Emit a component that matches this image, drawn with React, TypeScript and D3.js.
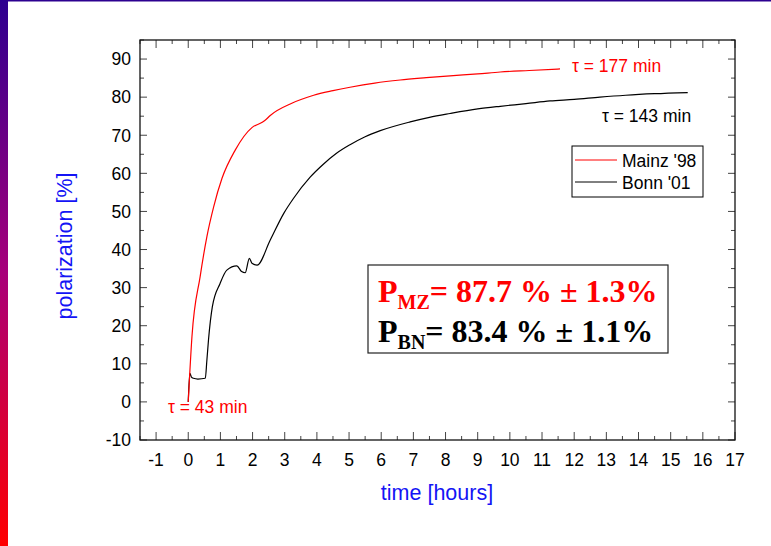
import React, { useEffect, useRef } from "react";
import * as d3 from "d3";

// values
const mainzTime = [0, 0.115, 0.37, 0.58, 0.79, 1.05, 1.46, 1.98, 2.3, 2.4, 2.55, 3.22, 3.9, 4.5, 5.03, 5.8, 6.59, 7.4, 8.14, 9.0, 9.7, 10.6, 11.56];
const mainzPol = [0, 17.1, 32.9, 43.4, 51.2, 58.7, 66.1, 72.0, 73.4, 74.0, 75.2, 78.4, 80.5, 81.7, 82.6, 83.7, 84.5, 85.1, 85.6, 86.1, 86.6, 87.0, 87.4];
const bonnTime = [0, 0.05, 0.1, 0.16, 0.3, 0.53, 0.58, 0.63, 0.75, 0.99, 1.2, 1.51, 1.66, 1.77, 1.9, 1.98, 2.14, 2.55, 2.97, 3.27, 3.79, 4.2, 4.6, 5.03, 5.5, 5.97, 6.9, 7.5, 8.14, 9.0, 9.7, 10.5, 11.25, 12.0, 12.8, 13.6, 14.5, 15.53];
const bonnPol = [0, 7.5, 6.5, 6.2, 6.0, 6.2, 11, 16.3, 25, 31.1, 34.6, 35.7, 34.2, 33.9, 37.7, 36.4, 35.9, 42.5, 49.5, 53.4, 59, 62.4, 65.2, 67.5, 69.6, 71.2, 73.5, 74.7, 75.7, 76.9, 77.6, 78.3, 79, 79.4, 80, 80.5, 80.9, 81.2];
const xTicks = d3.range(-1, 18);
const yTicks = d3.range(-10, 91, 10);

const App = () => {
  const svgRef = useRef<SVGSVGElement>(null);

  useEffect(() => {
    const svg = d3.select(svgRef.current);
    svg.selectAll("*").remove();

    const left = 140, right = 735, top = 40, bottom = 440;
    const x = d3.scaleLinear().domain([-1.5, 17]).range([left, right]);
    const y = d3.scaleLinear().domain([-10, 95]).range([bottom, top]);

    // side gradient bar + top rule
    const grad = svg.append("defs").append("linearGradient")
      .attr("id", "side").attr("x1", 0).attr("x2", 0).attr("y1", 0).attr("y2", 1);
    grad.append("stop").attr("offset", "0%").attr("stop-color", "#2c0090");
    grad.append("stop").attr("offset", "50%").attr("stop-color", "#a8007a");
    grad.append("stop").attr("offset", "100%").attr("stop-color", "#ff0000");
    svg.append("rect").attr("x", 0).attr("y", 0).attr("width", 8).attr("height", 546).attr("fill", "url(#side)");
    svg.append("rect").attr("x", 0).attr("y", 0).attr("width", 771).attr("height", 1.5).attr("fill", "#2c0090");

    const g = svg.append("g");
    const tickCol = "#444";

    // ticks, all pointing inward, mirrored on top/right
    const xMinor = d3.range(-1.5, 17.01, 0.5);
    xMinor.forEach((t) => {
      const major = Number.isInteger(t);
      const len = major ? 8 : 4;
      g.append("line").attr("x1", x(t)).attr("x2", x(t)).attr("y1", bottom).attr("y2", bottom - len).attr("stroke", tickCol);
      g.append("line").attr("x1", x(t)).attr("x2", x(t)).attr("y1", top).attr("y2", top + len).attr("stroke", tickCol);
    });
    const yMinor = d3.range(-10, 95.01, 5);
    yMinor.forEach((v) => {
      const major = v % 10 === 0;
      const len = major ? 7 : 4;
      g.append("line").attr("y1", y(v)).attr("y2", y(v)).attr("x1", left).attr("x2", left + len).attr("stroke", tickCol);
      g.append("line").attr("y1", y(v)).attr("y2", y(v)).attr("x1", right).attr("x2", right - len).attr("stroke", tickCol);
    });

    g.append("rect").attr("x", left).attr("y", top).attr("width", right - left).attr("height", bottom - top)
      .attr("fill", "none").attr("stroke", "#111").attr("stroke-width", 1.3);

    const font = "Arial, 'Liberation Sans', sans-serif";
    g.selectAll(".xl").data(xTicks).enter().append("text")
      .attr("x", (d) => x(d)).attr("y", 466).attr("text-anchor", "middle")
      .attr("font-family", font).attr("font-size", 17.5).text((d) => d);
    g.selectAll(".yl").data(yTicks).enter().append("text")
      .attr("x", 131).attr("y", (d) => y(d) + 6.3).attr("text-anchor", "end")
      .attr("font-family", font).attr("font-size", 17.5).text((d) => d);

    g.append("text").attr("x", 437).attr("y", 500).attr("text-anchor", "middle")
      .attr("font-family", font).attr("font-size", 21.5).attr("fill", "#1414f5").text("time [hours]");
    g.append("text").attr("transform", `translate(72, 246) rotate(-90)`).attr("text-anchor", "middle")
      .attr("font-family", font).attr("font-size", 21.5).attr("fill", "#1414f5").text("polarization [%]");

    // curves
    const mainz = mainzTime.map((t, i) => ({ t, v: mainzPol[i] }));
    const bonn = bonnTime.map((t, i) => ({ t, v: bonnPol[i] }));
    const lineGen = d3.line<{ t: number; v: number }>()
      .x((d) => x(d.t)).y((d) => y(d.v)).curve(d3.curveMonotoneX);
    g.append("path").datum(bonn).attr("d", lineGen).attr("fill", "none").attr("stroke", "#000").attr("stroke-width", 1.2);
    g.append("path").datum(mainz).attr("d", lineGen).attr("fill", "none").attr("stroke", "#ff0000").attr("stroke-width", 1.2);

    // annotations
    g.append("text").attr("x", 572).attr("y", 72).attr("font-family", font).attr("font-size", 17.5).attr("fill", "#ff0000").text("τ = 177 min");
    g.append("text").attr("x", 602).attr("y", 122).attr("font-family", font).attr("font-size", 17.5).attr("fill", "#000").text("τ = 143 min");
    g.append("text").attr("x", 168).attr("y", 413).attr("font-family", font).attr("font-size", 17.5).attr("fill", "#ff0000").text("τ = 43 min");

    // legend
    const lg = g.append("g");
    lg.append("rect").attr("x", 572).attr("y", 146).attr("width", 131).attr("height", 51).attr("fill", "#fff").attr("stroke", "#000");
    [["Mainz '98", "#ff0000", 160], ["Bonn '01", "#000", 182]].forEach(([name, col, yy]) => {
      lg.append("line").attr("x1", 575).attr("x2", 617).attr("y1", yy as number).attr("y2", yy as number).attr("stroke", col as string);
      lg.append("text").attr("x", 622).attr("y", (yy as number) + 6.5).attr("font-family", font).attr("font-size", 17.5).text(name as string);
    });

    // result box
    const tf = "'Liberation Serif', 'Times New Roman', serif";
    g.append("rect").attr("x", 368).attr("y", 265).attr("width", 300).attr("height", 88).attr("fill", "#fff").attr("stroke", "#222").attr("stroke-width", 1.2);
    const rows = [["MZ", "= 87.7 % ± 1.3%", "#ff0000", 302], ["BN", "= 83.4 % ± 1.1%", "#000", 342]];
    rows.forEach(([sub, rest, col, yy]) => {
      const t = g.append("text").attr("x", 378).attr("y", yy as number).attr("font-family", tf)
        .attr("font-weight", "bold").attr("font-size", 32).attr("fill", col as string);
      t.append("tspan").text("P");
      t.append("tspan").attr("font-size", 20).attr("dy", 7).text(sub as string);
      t.append("tspan").attr("dy", -7).text(rest as string);
    });
  }, []);

  return (
    <svg ref={svgRef} width={771} height={546} style={{ position: "absolute", left: 0, top: 0, background: "#fff" }}></svg>
  );
};

export default App;
